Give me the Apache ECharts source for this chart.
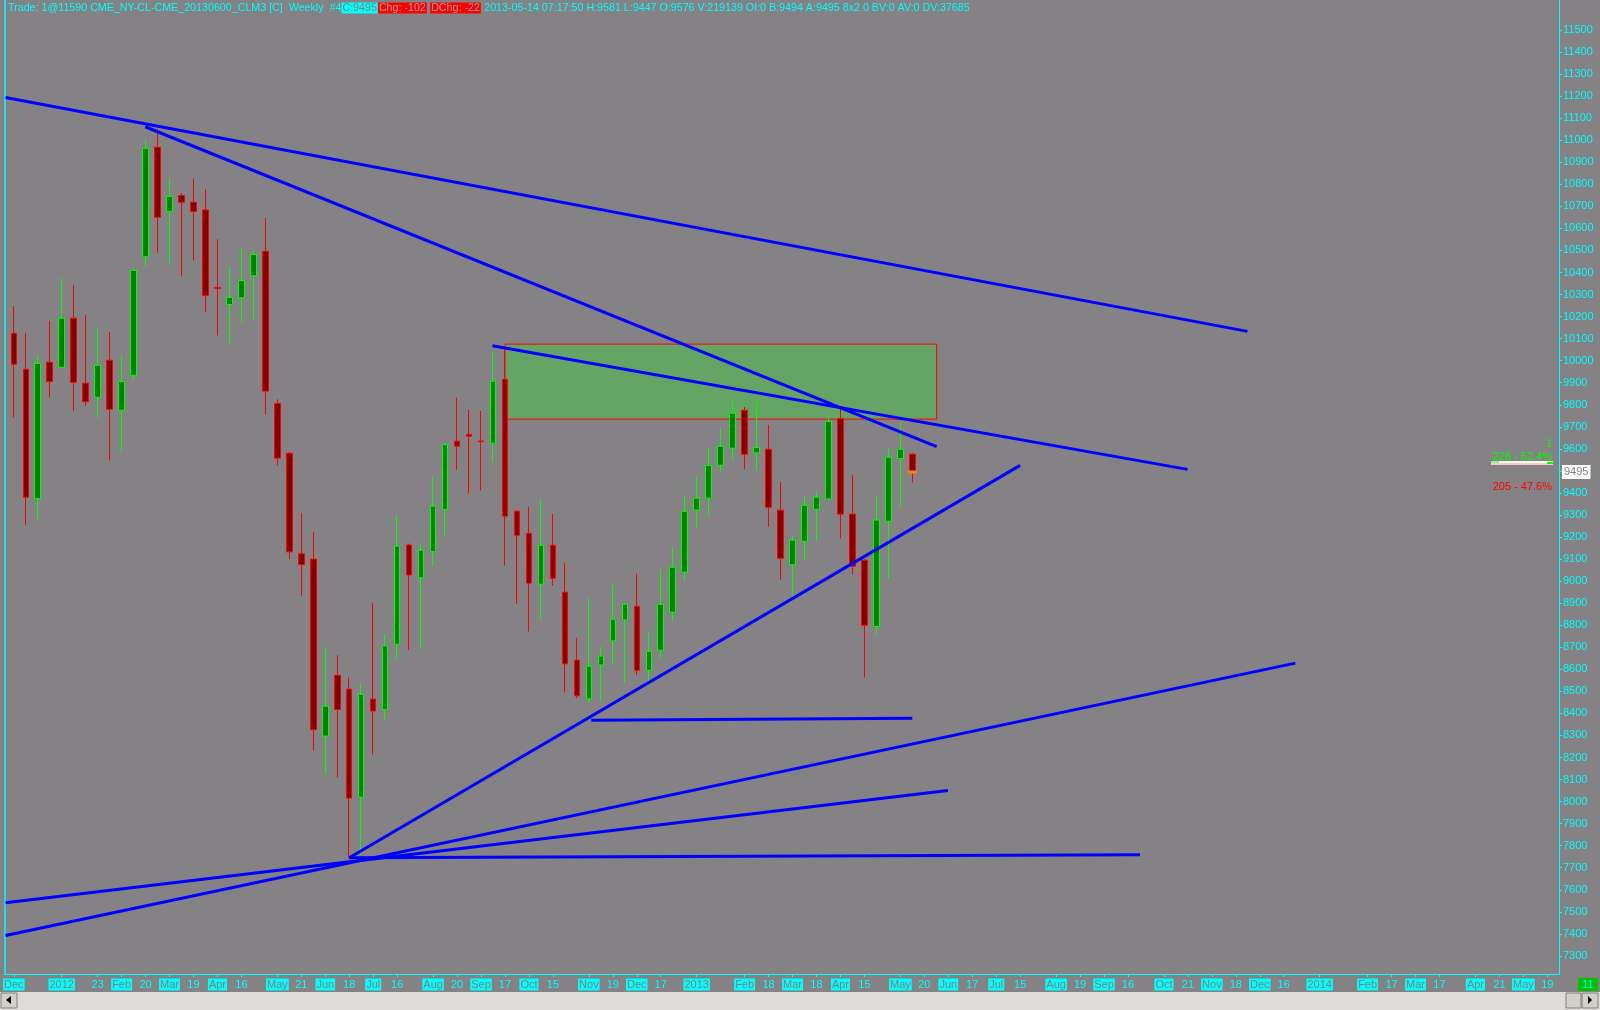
<!DOCTYPE html>
<html><head><meta charset="utf-8">
<script src="https://cdn.jsdelivr.net/npm/echarts@6/dist/echarts.min.js"></script>
<style>html,body{margin:0;padding:0;background:#848284;}#c{width:1600px;height:1010px;}</style>
</head><body><div id="c"></div>
<script>
// Weekly CL (crude oil) bars, week 0 = week of 2011-12-05
const opens  = [10124,9961,9374,9993,9970,10193,9898,9834,10002,9775,9934,10471,10968,10677,10749,10719,10684,10332,10255,10285,10385,10496,9806,9580,9124,9100,8297,8573,8510,8020,8465,8418,8714,9164,9015,9135,9326,9635,9666,9636,9626,9916,9317,9217,8986,9163,8950,8642,8466,8620,8729,8824,8886,8596,8687,8859,9041,9322,9376,9526,9603,9775,9582,9598,9322,9074,9181,9326,9373,9737,9304,9095,8794,9272,9556,9576];
const closes = [9984,9381,9988,9905,10193,9902,9814,9979,9780,9905,10410,10963,10651,10745,10719,10677,10296,10328,10287,10363,10482,9862,9558,9133,9075,8326,8433,8418,8016,8487,8411,8706,9159,9028,9140,9340,9619,9612,9657,9633,9907,9295,9208,8991,9163,9013,8625,8480,8614,8660,8827,8895,8596,8681,8895,9063,9317,9376,9524,9612,9762,9576,9606,9335,9104,9186,9344,9381,9725,9304,9068,8800,9277,9562,9598,9495];
const lows   = [9742,9255,9278,9832,9970,9772,9796,9742,9547,9588,9916,10431,10490,10441,10383,10454,10220,10114,10077,10174,10187,9756,9524,9100,8934,8233,8125,8109,7745,7758,8214,8370,8648,8687,8695,9068,9207,9505,9398,9411,9538,9071,8898,8771,8827,8980,8495,8469,8448,8458,8619,8540,8574,8534,8651,8821,9003,9245,9297,9497,9553,9508,9501,9247,9007,8934,9095,9181,9365,9193,9030,8563,8756,9012,9338,9447];
const highs  = [10248,10126,10025,10180,10374,10344,10207,10144,10130,10022,10415,11001,11050,10825,10760,10827,10777,10552,10426,10510,10502,10647,9825,9586,9309,9224,8703,8665,8562,8534,8901,8759,9296,9170,9174,9471,9632,9832,9777,9772,10043,10060,9322,9337,9369,9305,9083,8743,8924,8702,8982,8900,9033,8770,9054,9151,9390,9473,9604,9695,9827,9790,9812,9709,9450,9205,9387,9408,9739,9790,9481,9100,9391,9604,9719,9581];

// x-axis ticks (week index) and their labels
const tickWeeks  = [0,4,7,9,11,13,15,17,19,22,24,26,28,30,32,35,37,39,41,43,45,48,50,52,54,57,61,63,65,67,69,71,74,76,78,80,82,84,87,89,91,93,96,98,100,102,104,106,109,113,115,117,119,122,124,126,128];
const tickLabels = ['Dec','2012','23','Feb','20','Mar','19','Apr','16','May','21','Jun','18','Jul','16','Aug','20','Sep','17','Oct','15','Nov','19','Dec','17','2013','Feb','18','Mar','18','Apr','15','May','20','Jun','17','Jul','15','Aug','19','Sep','16','Oct','21','Nov','18','Dec','16','2014','Feb','17','Mar','17','Apr','21','May','19'];
const priceTicks = [7300,7400,7500,7600,7700,7800,7900,8000,8100,8200,8300,8400,8500,8600,8700,8800,8900,9000,9100,9200,9300,9400,9500,9600,9700,9800,9900,10000,10100,10200,10300,10400,10500,10600,10700,10800,10900,11000,11100,11200,11300,11400,11500];

// drawn trend lines: [week1, price1, week2, price2]
const trendLines = [
  [-0.69, 11194, 102.97, 10133],
  [10.97, 11061, 77.03, 9610],
  [39.95, 10068, 97.97, 9507],
  [28, 7745, 84.0, 9525],
  [48.2, 8369, 75.0, 8378],
  [-0.69, 7393, 106.97, 8628],
  [-0.69, 7541, 77.97, 8050],
  [28, 7745, 94, 7759]
];
// shaded zone: [week1, priceTop, week2, priceBottom]
const zoneBox = [41.0, 10075, 77.03, 9735];
const lastWeek = 75;
const lastPrice = 9495;

const headerMain = 'Trade: 1@11590 CME_NY-CL-CME_20130600_CLM3 [C]  Weekly  #4';
const headerClose = 'C:9495';
const headerChg = 'Chg: -102';
const headerDChg = 'DChg: -22';
const headerTail = '2013-05-14 07:17:50 H:9581 L:9447 O:9576 V:219139 OI:0 B:9494 A:9495 8x2 0 BV:0 AV:0 DV:37685';
const bidText = '226 - 52.4%';
const askText = '205 - 47.6%';
const countText = '1';
const cornerText = '11';

const FONT = 'Liberation Sans';
const CYAN = '#00ffff';
const BG = '#848284';

const candleData = opens.map((o, i) => [i, o, closes[i], lows[i], highs[i]]);

const series = [
  {
    type: 'line', data: [], z: 1, silent: true,
    markArea: {
      silent: true,
      itemStyle: { color: '#64a464', borderColor: '#ff0000', borderWidth: 1 },
      data: [[{ coord: [zoneBox[0], zoneBox[1]] }, { coord: [zoneBox[2], zoneBox[3]] }]]
    }
  },
  {
    type: 'candlestick', z: 2, silent: true,
    barWidth: 6,
    encode: { x: 0, y: [1, 2, 3, 4] },
    data: candleData,
    itemStyle: { color: '#008000', color0: '#800000', borderColor: '#00ff00', borderColor0: '#ff0000', borderWidth: 1 },
    emphasis: { disabled: true },
    markLine: {
      silent: true, symbol: ['none', 'none'],
      lineStyle: { color: 'rgba(0,0,0,0)', width: 0 },
      label: { position: 'end', distance: 3, formatter: String(lastPrice), backgroundColor: '#ffffff', color: '#808080',
               fontFamily: FONT, fontSize: 11, padding: [2, 2, 1, 2] },
      data: [{ yAxis: lastPrice }]
    },
    markPoint: {
      silent: true,
      data: [{ coord: [lastWeek, lastPrice], symbol: 'rect', symbolSize: [9, 3], itemStyle: { color: '#ff8000' }, label: { show: false } }]
    }
  }
];
trendLines.forEach(t => {
  series.push({
    type: 'line', z: 3, silent: true, symbol: 'none',
    data: [[t[0], t[1]], [t[2], t[3]]],
    lineStyle: { color: '#0000ff', width: 3 }
  });
});

const option = {
  backgroundColor: BG,
  animation: false,
  grid: { left: 2, right: 41, top: 0, bottom: 36, containLabel: false },
  xAxis: {
    type: 'value', min: -0.775, max: 128.975,
    splitLine: { show: false },
    axisLine: { show: true, onZero: false, lineStyle: { color: CYAN, width: 1 } },
    axisTick: { show: true, length: 3, customValues: tickWeeks, lineStyle: { color: CYAN } },
    axisLabel: {
      customValues: tickWeeks, margin: 4, fontFamily: FONT, fontSize: 11,
      formatter: function (v) {
        const k = tickWeeks.indexOf(Math.round(v));
        if (k < 0) return '';
        const s = tickLabels[k];
        return /^\d{1,2}$/.test(s) ? '{d|' + s + '}' : '{m|' + s + '}';
      },
      rich: {
        d: { color: CYAN, fontFamily: FONT, fontSize: 11, padding: [1, 1, 0, 1], lineHeight: 13 },
        m: { color: '#808080', backgroundColor: CYAN, fontFamily: FONT, fontSize: 11, padding: [1, 1, 0, 1], lineHeight: 13 }
      }
    }
  },
  yAxis: [
    {
      type: 'value', position: 'right', min: 7218, max: 11636,
      splitLine: { show: false },
      axisLine: { show: true, onZero: false, lineStyle: { color: CYAN, width: 1 } },
      axisTick: { show: true, length: 3, customValues: priceTicks, lineStyle: { color: CYAN } },
      axisLabel: { customValues: priceTicks, color: CYAN, margin: 4, fontFamily: FONT, fontSize: 11,
                   formatter: function (v) { return String(Math.round(v)); } }
    },
    {
      type: 'value', position: 'left', min: 7218, max: 11636,
      splitLine: { show: false },
      axisLine: { show: true, onZero: false, lineStyle: { color: CYAN, width: 1.5 } },
      axisTick: { show: false }, axisLabel: { show: false }
    }
  ],
  series: series,
  graphic: [
    {
      type: 'text', left: 8, top: 2, silent: true,
      style: {
        text: '{t|' + headerMain + '}{c|' + headerClose + '}{r|' + headerChg + '} {r|' + headerDChg + '} {t|' + headerTail + '}',
        rich: {
          t: { fill: CYAN, fontFamily: FONT, fontSize: 10.7, lineHeight: 14 },
          c: { fill: '#808080', backgroundColor: CYAN, fontFamily: FONT, fontSize: 10.7, lineHeight: 14, padding: [0, 1] },
          r: { fill: '#a0a0a0', backgroundColor: '#ff0000', fontFamily: FONT, fontSize: 10.7, lineHeight: 14, padding: [0, 1] }
        }
      }
    },
    { type: 'text', right: 48, top: 438, silent: true, style: { text: countText, fill: '#00ff00', font: '11px ' + FONT } },
    { type: 'text', right: 48, top: 451, silent: true, style: { text: bidText, fill: '#00ff00', font: '11px ' + FONT } },
    { type: 'rect', silent: true, shape: { x: 1491, y: 461, width: 62, height: 2 }, style: { fill: '#e8ffe8' } },
    { type: 'rect', silent: true, shape: { x: 1491, y: 463, width: 62, height: 2 }, style: { fill: '#ffc8c8' } },
    { type: 'rect', silent: true, shape: { x: 1491, y: 461, width: 8, height: 2 }, style: { fill: '#80ff80' } },
    { type: 'rect', silent: true, shape: { x: 1547, y: 462, width: 6, height: 2 }, style: { fill: '#00ff00' } },
    { type: 'text', right: 48, top: 481, silent: true, style: { text: askText, fill: '#ff0000', font: '11px ' + FONT } },
    { type: 'rect', silent: true, shape: { x: 1578, y: 978, width: 20, height: 13 }, style: { fill: '#00c000' } },
    { type: 'text', silent: true, x: 1588, y: 985, style: { text: cornerText, fill: CYAN, font: '11px ' + FONT, align: 'center', verticalAlign: 'middle' } },
    { type: 'rect', silent: true, shape: { x: 0, y: 992, width: 1600, height: 18 }, style: { fill: '#dedcd8' } },
    { type: 'rect', silent: true, shape: { x: 1, y: 993, width: 16, height: 15 }, style: { fill: '#d4d0c8', stroke: '#808080', lineWidth: 1 } },
    { type: 'polygon', silent: true, shape: { points: [[6, 1000], [11, 996], [11, 1004]] }, style: { fill: '#000000' } },
    { type: 'rect', silent: true, shape: { x: 1566, y: 993, width: 15, height: 15 }, style: { fill: '#d4d0c8', stroke: '#808080', lineWidth: 1 } },
    { type: 'rect', silent: true, shape: { x: 1582, y: 993, width: 16, height: 15 }, style: { fill: '#d4d0c8', stroke: '#808080', lineWidth: 1 } },
    { type: 'polygon', silent: true, shape: { points: [[1592, 1000], [1588, 996], [1588, 1004]] }, style: { fill: '#000000' } }
  ]
};

const chart = echarts.init(document.getElementById('c'), null, { renderer: 'canvas' });
chart.setOption(option);
</script>
</body></html>
